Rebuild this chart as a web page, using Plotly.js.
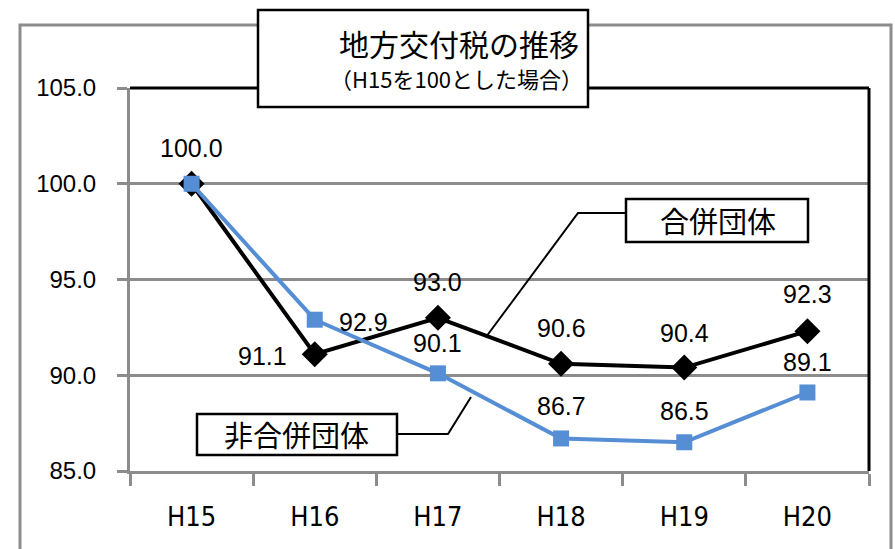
<!DOCTYPE html>
<html>
<head>
<meta charset="utf-8">
<script src="https://cdn.plot.ly/plotly-3.0.1.min.js"></script>
<style>html,body{margin:0;padding:0;background:#fff;}#chart{width:895px;height:549px;}</style>
</head>
<body>
<div id="chart"></div>
<script>
var categories = ["H15", "H16", "H17", "H18", "H19", "H20"];
var mergedValues = [100.0, 91.1, 93.0, 90.6, 90.4, 92.3];
var nonMergedValues = [100.0, 92.9, 90.1, 86.7, 86.5, 89.1];
var yTickValues = [85, 90, 95, 100, 105];
var mergedName = "合併団体";
var nonMergedName = "非合併団体";
var titleMain = "地方交付税の推移";
var titleSub = "（H15を100とした場合）";

// label offsets (pixels) for the data labels
var mergedLabelDx = [0, -52, 0, 0, 0, 0];
var mergedLabelDy = [36, -2, 36, 36, 35, 37];
var nonMergedLabelDx = [0, 49, 0, 0, 0, 0];
var nonMergedLabelDy = [0, -2, 30, 32, 31, 30];
var nonMergedLabelShow = [false, true, true, true, true, true];

var L = 130, R = 26, T = 88, B = 78, W = 895, H = 549;
var pw = W - L - R, ph = H - T - B;
function px(x) { return (x - L) / pw; }
function py(y) { return 1 - (y - T) / ph; }

var labelFont = {family: "Liberation Sans, Arial, sans-serif", size: 25, color: "#000"};
var cjk = "Noto Sans CJK JP, sans-serif";

var traces = [
  {
    x: categories, y: mergedValues, name: mergedName, type: "scatter",
    mode: "lines+markers",
    line: {color: "#000000", width: 4},
    marker: {symbol: "diamond", size: 20, color: "#000000"},
    cliponaxis: false,
    hoverinfo: "skip"
  },
  {
    x: categories, y: nonMergedValues, name: nonMergedName, type: "scatter",
    mode: "lines+markers",
    line: {color: "#558ED5", width: 4},
    marker: {symbol: "square", size: 16, color: "#558ED5"},
    cliponaxis: false,
    hoverinfo: "skip"
  }
];

var shapes = [
  {type: "rect", xref: "paper", yref: "paper", x0: px(20), x1: px(891), y0: py(560), y1: py(25),
   line: {color: "#8c8c8c", width: 3}, layer: "below"},
  {type: "line", xref: "paper", yref: "paper", x0: 0, x1: 1, y0: 1, y1: 1, line: {color: "#000", width: 3}},
  {type: "line", xref: "paper", yref: "paper", x0: 1, x1: 1, y0: 0, y1: 1, line: {color: "#000", width: 3}},
  {type: "rect", xref: "paper", yref: "paper", x0: px(258), x1: px(588), y0: py(107), y1: py(10),
   line: {color: "#000", width: 2.5}, fillcolor: "#fff"},
  {type: "rect", xref: "paper", yref: "paper", x0: px(626), x1: px(808), y0: py(242), y1: py(199),
   line: {color: "#000", width: 2.5}, fillcolor: "#fff"},
  {type: "rect", xref: "paper", yref: "paper", x0: px(197), x1: px(397), y0: py(455), y1: py(414),
   line: {color: "#000", width: 2.5}, fillcolor: "#fff"},
  {type: "path", xref: "paper", yref: "paper",
   path: "M " + px(626) + " " + py(213) + " L " + px(578) + " " + py(213) + " L " + px(486) + " " + py(337),
   line: {color: "#000", width: 2}},
  {type: "path", xref: "paper", yref: "paper",
   path: "M " + px(397) + " " + py(434) + " L " + px(448) + " " + py(434) + " L " + px(471) + " " + py(397),
   line: {color: "#000", width: 2}}
];

var annotations = [
  {xref: "paper", yref: "paper", x: px(459), y: py(43), text: titleMain, showarrow: false,
   font: {family: cjk, size: 30, color: "#000"}, xanchor: "center", yanchor: "middle"},
  {xref: "paper", yref: "paper", x: px(456), y: py(78), text: titleSub, showarrow: false,
   font: {family: cjk, size: 22, color: "#000"}, xanchor: "center", yanchor: "middle"},
  {xref: "paper", yref: "paper", x: px(718), y: py(220), text: mergedName, showarrow: false,
   font: {family: cjk, size: 29, color: "#000"}, xanchor: "center", yanchor: "middle"},
  {xref: "paper", yref: "paper", x: px(296), y: py(434), text: nonMergedName, showarrow: false,
   font: {family: cjk, size: 29, color: "#000"}, xanchor: "center", yanchor: "middle"}
];

categories.forEach(function (c, i) {
  annotations.push({x: c, y: mergedValues[i], xref: "x", yref: "y", text: mergedValues[i].toFixed(1),
    showarrow: false, xanchor: "center", yanchor: "middle",
    xshift: mergedLabelDx[i], yshift: mergedLabelDy[i], font: labelFont});
  if (nonMergedLabelShow[i]) {
    annotations.push({x: c, y: nonMergedValues[i], xref: "x", yref: "y", text: nonMergedValues[i].toFixed(1),
      showarrow: false, xanchor: "center", yanchor: "middle",
      xshift: nonMergedLabelDx[i], yshift: nonMergedLabelDy[i], font: labelFont});
  }
});

var layout = {
  width: W, height: H,
  margin: {l: L, r: R, t: T, b: B, pad: 0},
  paper_bgcolor: "#fff", plot_bgcolor: "#fff",
  showlegend: false,
  xaxis: {
    type: "category", range: [-0.5, 5.5], fixedrange: true,
    showgrid: false, zeroline: false,
    showline: true, linecolor: "#8c8c8c", linewidth: 3,
    ticks: "outside", tickson: "boundaries", ticklen: 12, tickwidth: 3, tickcolor: "#8c8c8c",
    ticklabelstandoff: 20,
    tickfont: {family: "Liberation Sans Narrow, Arial Narrow, DejaVu Sans Condensed, sans-serif", size: 27, color: "#000"}
  },
  yaxis: {
    range: [85, 105], fixedrange: true,
    tickmode: "array", tickvals: yTickValues,
    ticktext: yTickValues.map(function (v) { return v.toFixed(1); }),
    showgrid: true, gridcolor: "#8c8c8c", gridwidth: 3, zeroline: false,
    showline: true, linecolor: "#8c8c8c", linewidth: 3,
    ticks: "outside", ticklen: 10, tickwidth: 3, tickcolor: "#8c8c8c",
    ticklabelstandoff: 16,
    tickfont: {family: "Liberation Sans, Arial, sans-serif", size: 24, color: "#000"}
  },
  shapes: shapes,
  annotations: annotations
};

Plotly.newPlot("chart", traces, layout, {displayModeBar: false, staticPlot: true});
</script>
</body>
</html>
